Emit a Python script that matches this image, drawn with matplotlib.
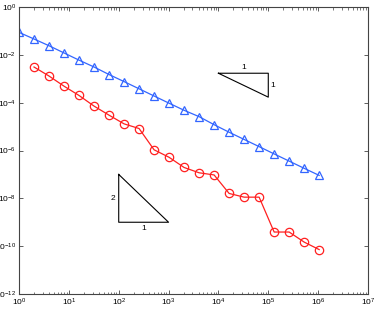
import numpy as np
import matplotlib
matplotlib.use('Agg')
from matplotlib import pyplot as plt
from matplotlib.ticker import LogLocator, NullLocator, NullFormatter

# x = 2^k, k = 0..20
n = [2**k for k in range(21)]
err_blue = [8.7e-2, 4.6e-2, 2.4e-2, 1.2e-2, 6.0e-3, 3.1e-3, 1.5e-3, 7.6e-4,
            3.8e-4, 1.9e-4, 9.5e-5, 4.8e-5, 2.6e-5, 1.2e-5, 5.8e-6, 2.9e-6,
            1.45e-6, 7.2e-7, 3.6e-7, 1.8e-7, 9.1e-8]
n_red = n[1:]
err_red = [3.1e-3, 1.3e-3, 4.9e-4, 2.0e-4, 7.2e-5, 3.0e-5, 1.3e-5, 8.3e-6,
           1.07e-6, 5.2e-7, 1.95e-7, 1.17e-7, 9.5e-8, 1.6e-8, 1.12e-8,
           1.12e-8, 3.9e-10, 3.9e-10, 1.48e-10, 7.2e-11]

# slope triangles
tri1_x = [1e4, 1e5, 1e5, 1e4]
tri1_y = [1.7e-3, 1.7e-3, 1.7e-4, 1.7e-3]
tri2_x = [1e2, 1e2, 1e3, 1e2]
tri2_y = [1e-7, 1e-9, 1e-9, 1e-7]

plt.rcParams.update({'font.size': 6, 'font.family': ['Liberation Sans', 'DejaVu Sans'],
                     'mathtext.fontset': 'custom', 'mathtext.rm': 'Liberation Sans',
                     'mathtext.it': 'Liberation Sans'})

fig = plt.figure(figsize=(3.74, 3.10), dpi=100)
ax = fig.add_axes([19/374, 1 - 294/310, 349/374, 287/310])

ax.loglog(n, err_blue, '-^', color='#3366ff', mfc='none', mec='#3366ff',
          ms=6, lw=0.9, mew=0.9)
ax.loglog(n_red, err_red, '-o', color='#ff2020', mfc='none', mec='#ff2020',
          ms=6, lw=0.9, mew=0.9)

ax.plot(tri1_x, tri1_y, color='k', lw=0.8)
ax.plot(tri2_x, tri2_y, color='k', lw=0.8)
ax.text(10**4.5, 1.7e-3 * 1.25, '1', ha='center', va='bottom')
ax.text(1e5 * 1.12, 10**-3.27, '1', ha='left', va='center')
ax.text(1e2 / 1.15, 1e-8, '2', ha='right', va='center')
ax.text(10**2.5, 1e-9 / 1.25, '1', ha='center', va='top')

ax.set_xlim(1, 1e7)
ax.set_ylim(1e-12, 1)
ax.set_xticks([10.0**k for k in range(8)])
ax.set_xticklabels([r'$10^{%d}$' % k for k in range(8)])
ax.set_yticks([10.0**k for k in range(-12, 1, 2)])
ax.set_yticklabels([r'$10^{%d}$' % k for k in range(-12, 1, 2)])
ax.xaxis.set_minor_locator(LogLocator(base=10, subs=np.arange(2, 10), numticks=20))
ax.xaxis.set_minor_formatter(NullFormatter())
ax.yaxis.set_minor_locator(NullLocator())
ax.tick_params(which='both', direction='in', top=True, right=True, pad=2,
               color='#444444')
ax.tick_params(which='major', length=3, width=0.6)
ax.tick_params(which='minor', length=1.8, width=0.5)
for s in ax.spines.values():
    s.set_linewidth(0.8)
    s.set_color('#444444')

fig.savefig('out.png', dpi=100)
